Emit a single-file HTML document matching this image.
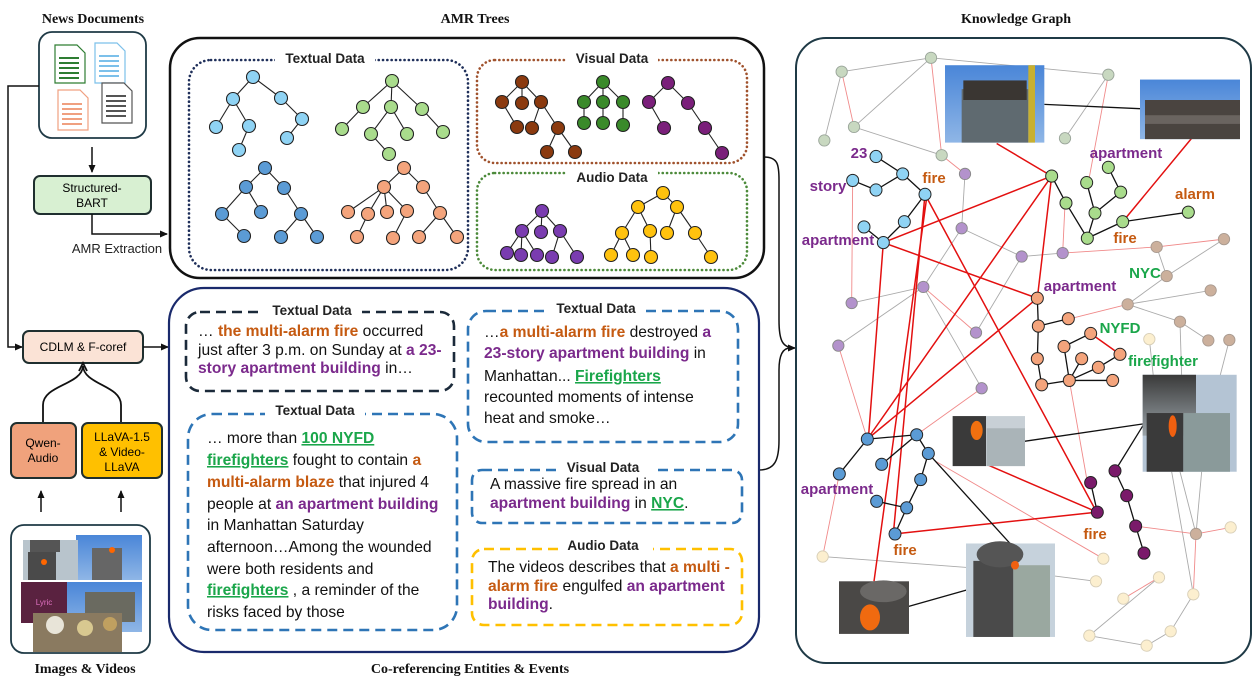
<!DOCTYPE html>
<html><head><meta charset="utf-8"><style>
body{margin:0;background:#fff}
svg{display:block}
.kg *{vector-effect:non-scaling-stroke}
.t{font-family:"Liberation Serif",serif;font-weight:bold;font-size:14px;fill:#111}
.s{font-family:"Liberation Sans",sans-serif}
.lb{font-family:"Liberation Sans",sans-serif;font-weight:bold;font-size:13.5px;fill:#222}
.bx{font-family:"Liberation Sans",sans-serif;font-size:15.6px;fill:#111}
.o{fill:#c55a11;font-weight:bold}
.p{fill:#7b2a8c;font-weight:bold}
.g{fill:#1aa64a;font-weight:bold;text-decoration:underline}
.kl{font-family:"Liberation Sans",sans-serif;font-weight:bold;font-size:15px}
.n circle{stroke:#222;stroke-width:1.1}
.n line{stroke:#222;stroke-width:1.1}
</style></head><body>
<svg width="1256" height="678" viewBox="0 0 1256 678" xmlns="http://www.w3.org/2000/svg">
<defs>
<marker id="ah" markerWidth="8" markerHeight="8" refX="7" refY="4" orient="auto" markerUnits="userSpaceOnUse"><path d="M0,0.5 L8,4 L0,7.5z" fill="#111"/></marker>
<linearGradient id="sky" x1="0" y1="0" x2="0" y2="1"><stop offset="0" stop-color="#4a86d8"/><stop offset="1" stop-color="#8fb6e6"/></linearGradient>
<linearGradient id="smk" x1="0" y1="0" x2="0" y2="1"><stop offset="0" stop-color="#3a3a3a"/><stop offset="1" stop-color="#9aa3a8"/></linearGradient>
</defs>

<!-- titles -->
<text class="t" x="93" y="23" text-anchor="middle">News Documents</text>
<text class="t" x="475" y="23" text-anchor="middle">AMR Trees</text>
<text class="t" x="1016" y="23" text-anchor="middle">Knowledge Graph</text>
<text class="t" x="85" y="673" text-anchor="middle">Images &amp; Videos</text>
<text class="t" x="470" y="673" text-anchor="middle">Co-referencing Entities &amp; Events</text>

<!-- news docs -->
<rect x="39" y="32" width="107" height="106" rx="13" fill="#fff" stroke="#1f3a46" stroke-width="1.8"/>
<g fill="#fff" stroke-width="1.2">
<path d="M55,45 h22 l8,8 v30 h-30z" stroke="#2e7d32"/>
<path d="M95,43 h22 l8,8 v32 h-30z" stroke="#7cc0ea"/>
<path d="M58,90 h22 l8,8 v32 h-30z" stroke="#f0a080"/>
<path d="M102,83 h22 l8,8 v32 h-30z" stroke="#555"/>
</g>
<g stroke-width="2">
<path d="M59,58h20M59,63h20M59,68h20M59,73h20M59,78h20" stroke="#2e7d32"/>
<path d="M99,56h20M99,61h20M99,66h20M99,71h20M99,76h20" stroke="#7cc0ea"/>
<path d="M62,104h20M62,109h20M62,114h20M62,119h20M62,124h20" stroke="#f0a080"/>
<path d="M106,96h20M106,101h20M106,106h20M106,111h20M106,116h20" stroke="#555"/>
</g>
<line x1="92" y1="147" x2="92" y2="172" stroke="#111" stroke-width="1.5" marker-end="url(#ah)"/>
<rect x="34" y="176" width="117" height="38" rx="6" fill="#d8f0d2" stroke="#1f2f2f" stroke-width="2"/>
<text class="s" x="92" y="192" font-size="12" text-anchor="middle">Structured-</text>
<text class="s" x="92" y="207" font-size="12" text-anchor="middle">BART</text>
<path d="M92,214 V234 H167" fill="none" stroke="#111" stroke-width="1.5" marker-end="url(#ah)"/>
<text class="s" x="117" y="253" font-size="13" text-anchor="middle" fill="#222">AMR Extraction</text>
<path d="M39,86 H8 V347 H22" fill="none" stroke="#111" stroke-width="1.5" marker-end="url(#ah)"/>
<rect x="23" y="331" width="120" height="32" rx="6" fill="#fbe3d6" stroke="#1f2f2f" stroke-width="2"/>
<text class="s" x="83" y="351" font-size="12" text-anchor="middle">CDLM &amp; F-coref</text>
<line x1="143" y1="347" x2="168" y2="347" stroke="#111" stroke-width="1.5" marker-end="url(#ah)"/>
<path d="M43,423 V405 C43,385 82,385 83,366 C84,385 121,385 121,405 V423" fill="none" stroke="#111" stroke-width="1.8"/>
<path d="M79,371 L83,363 L87,371" fill="none" stroke="#111" stroke-width="1.8"/>
<rect x="11" y="423" width="65" height="55" rx="6" fill="#f0a27c" stroke="#1f2f2f" stroke-width="2"/>
<text class="s" x="43" y="447" font-size="12" text-anchor="middle">Qwen-</text>
<text class="s" x="43" y="462" font-size="12" text-anchor="middle">Audio</text>
<rect x="82" y="423" width="80" height="55" rx="6" fill="#ffc000" stroke="#1f2f2f" stroke-width="2"/>
<text class="s" x="122" y="441" font-size="12" text-anchor="middle">LLaVA-1.5</text>
<text class="s" x="122" y="456" font-size="12" text-anchor="middle">&amp; Video-</text>
<text class="s" x="122" y="471" font-size="12" text-anchor="middle">LLaVA</text>
<line x1="41" y1="512" x2="41" y2="491" stroke="#111" stroke-width="1.5" marker-end="url(#ah)"/>
<line x1="121" y1="512" x2="121" y2="491" stroke="#111" stroke-width="1.5" marker-end="url(#ah)"/>
<rect x="11" y="525" width="139" height="128" rx="13" fill="#fff" stroke="#1f3a46" stroke-width="1.8"/>
<rect x="76" y="535" width="66" height="45" fill="url(#sky)"/><rect x="92" y="548" width="30" height="32" fill="#666"/><circle cx="112" cy="550" r="3" fill="#f60"/>
<rect x="23" y="540" width="55" height="40" fill="#b8c4cc"/><rect x="28" y="552" width="28" height="28" fill="#4a4a4a"/><rect x="30" y="540" width="30" height="12" fill="#555"/><circle cx="44" cy="562" r="3" fill="#f60"/>
<rect x="21" y="582" width="46" height="41" fill="#5a2240"/><text x="44" y="605" font-size="8" fill="#e070c0" class="s" text-anchor="middle">Lyric</text>
<rect x="67" y="582" width="75" height="50" fill="url(#sky)"/><rect x="85" y="592" width="50" height="30" fill="#6a6a60"/>
<rect x="33" y="613" width="89" height="39" fill="#8a7a60"/><circle cx="55" cy="625" r="9" fill="#e8e4d8"/><circle cx="85" cy="628" r="8" fill="#d8c890"/><circle cx="110" cy="624" r="7" fill="#c0a060"/>

<!-- AMR box -->
<rect x="170" y="38" width="594" height="240" rx="30" fill="#fff" stroke="#111" stroke-width="2.5"/>
<g fill="none" stroke-width="2.6" stroke-dasharray="0.1 4.2" stroke-linecap="round">
<rect x="189" y="60" width="279" height="210" rx="22" stroke="#1f2f5a"/>
<rect x="477" y="60" width="270" height="103" rx="18" stroke="#a0522d"/>
<rect x="477" y="173" width="270" height="97" rx="18" stroke="#4c8a3a"/>
</g>
<rect x="275" y="48" width="100" height="20" fill="#fff"/><text class="lb" x="325" y="63" text-anchor="middle">Textual Data</text>
<rect x="566" y="48" width="92" height="20" fill="#fff"/><text class="lb" x="612" y="63" text-anchor="middle">Visual Data</text>
<rect x="566" y="166" width="92" height="20" fill="#fff"/><text class="lb" x="612" y="182" text-anchor="middle">Audio Data</text>

<g class="n">
<line x1="253" y1="77" x2="233" y2="99"/><line x1="253" y1="77" x2="281" y2="98"/><line x1="233" y1="99" x2="216" y2="127"/><line x1="233" y1="99" x2="249" y2="126"/><line x1="249" y1="126" x2="239" y2="150"/><line x1="281" y1="98" x2="302" y2="119"/><line x1="302" y1="119" x2="287" y2="138"/>
<g fill="#8fd3f4"><circle cx="253" cy="77" r="6.5"/><circle cx="233" cy="99" r="6.5"/><circle cx="281" cy="98" r="6.5"/><circle cx="216" cy="127" r="6.5"/><circle cx="249" cy="126" r="6.5"/><circle cx="302" cy="119" r="6.5"/><circle cx="239" cy="150" r="6.5"/><circle cx="287" cy="138" r="6.5"/></g>
<line x1="392" y1="81" x2="363" y2="107"/><line x1="392" y1="81" x2="391" y2="107"/><line x1="392" y1="81" x2="422" y2="109"/><line x1="363" y1="107" x2="342" y2="129"/><line x1="391" y1="107" x2="371" y2="134"/><line x1="391" y1="107" x2="407" y2="134"/><line x1="422" y1="109" x2="443" y2="132"/><line x1="371" y1="134" x2="389" y2="154"/>
<g fill="#a9dc8c"><circle cx="392" cy="81" r="6.5"/><circle cx="363" cy="107" r="6.5"/><circle cx="391" cy="107" r="6.5"/><circle cx="422" cy="109" r="6.5"/><circle cx="342" cy="129" r="6.5"/><circle cx="371" cy="134" r="6.5"/><circle cx="407" cy="134" r="6.5"/><circle cx="443" cy="132" r="6.5"/><circle cx="389" cy="154" r="6.5"/></g>
<line x1="265" y1="168" x2="246" y2="187"/><line x1="265" y1="168" x2="284" y2="188"/><line x1="246" y1="187" x2="222" y2="214"/><line x1="246" y1="187" x2="261" y2="212"/><line x1="284" y1="188" x2="301" y2="214"/><line x1="222" y1="214" x2="244" y2="236"/><line x1="301" y1="214" x2="281" y2="237"/><line x1="301" y1="214" x2="317" y2="237"/>
<g fill="#5b9bd5"><circle cx="265" cy="168" r="6.5"/><circle cx="246" cy="187" r="6.5"/><circle cx="284" cy="188" r="6.5"/><circle cx="222" cy="214" r="6.5"/><circle cx="261" cy="212" r="6.5"/><circle cx="301" cy="214" r="6.5"/><circle cx="244" cy="236" r="6.5"/><circle cx="281" cy="237" r="6.5"/><circle cx="317" cy="237" r="6.5"/></g>
<line x1="404" y1="168" x2="384" y2="187"/><line x1="404" y1="168" x2="423" y2="187"/><line x1="384" y1="187" x2="348" y2="212"/><line x1="384" y1="187" x2="368" y2="214"/><line x1="384" y1="187" x2="387" y2="212"/><line x1="384" y1="187" x2="407" y2="211"/><line x1="423" y1="187" x2="440" y2="213"/><line x1="368" y1="214" x2="357" y2="237"/><line x1="407" y1="211" x2="393" y2="238"/><line x1="440" y1="213" x2="419" y2="237"/><line x1="440" y1="213" x2="457" y2="237"/>
<g fill="#f4a47c"><circle cx="404" cy="168" r="6.5"/><circle cx="384" cy="187" r="6.5"/><circle cx="423" cy="187" r="6.5"/><circle cx="348" cy="212" r="6.5"/><circle cx="368" cy="214" r="6.5"/><circle cx="387" cy="212" r="6.5"/><circle cx="407" cy="211" r="6.5"/><circle cx="440" cy="213" r="6.5"/><circle cx="357" cy="237" r="6.5"/><circle cx="393" cy="238" r="6.5"/><circle cx="419" cy="237" r="6.5"/><circle cx="457" cy="237" r="6.5"/></g>
<line x1="522" y1="82" x2="502" y2="102"/><line x1="522" y1="82" x2="522" y2="103"/><line x1="522" y1="82" x2="541" y2="102"/><line x1="502" y1="102" x2="517" y2="127"/><line x1="541" y1="102" x2="532" y2="128"/><line x1="541" y1="102" x2="558" y2="128"/><line x1="558" y1="128" x2="547" y2="152"/><line x1="558" y1="128" x2="575" y2="152"/>
<g fill="#8b3a0f"><circle cx="522" cy="82" r="6.5"/><circle cx="502" cy="102" r="6.5"/><circle cx="522" cy="103" r="6.5"/><circle cx="541" cy="102" r="6.5"/><circle cx="517" cy="127" r="6.5"/><circle cx="532" cy="128" r="6.5"/><circle cx="558" cy="128" r="6.5"/><circle cx="547" cy="152" r="6.5"/><circle cx="575" cy="152" r="6.5"/></g>
<line x1="603" y1="82" x2="584" y2="102"/><line x1="603" y1="82" x2="603" y2="102"/><line x1="603" y1="82" x2="623" y2="102"/><line x1="584" y1="102" x2="584" y2="123"/><line x1="603" y1="102" x2="603" y2="123"/><line x1="623" y1="102" x2="623" y2="125"/>
<g fill="#3a8a2a"><circle cx="603" cy="82" r="6.5"/><circle cx="584" cy="102" r="6.5"/><circle cx="603" cy="102" r="6.5"/><circle cx="623" cy="102" r="6.5"/><circle cx="584" cy="123" r="6.5"/><circle cx="603" cy="123" r="6.5"/><circle cx="623" cy="125" r="6.5"/></g>
<line x1="668" y1="83" x2="649" y2="102"/><line x1="668" y1="83" x2="688" y2="103"/><line x1="649" y1="102" x2="664" y2="128"/><line x1="688" y1="103" x2="705" y2="128"/><line x1="705" y1="128" x2="722" y2="153"/>
<g fill="#7a1f7a"><circle cx="668" cy="83" r="6.5"/><circle cx="649" cy="102" r="6.5"/><circle cx="688" cy="103" r="6.5"/><circle cx="664" cy="128" r="6.5"/><circle cx="705" cy="128" r="6.5"/><circle cx="722" cy="153" r="6.5"/></g>
<line x1="542" y1="211" x2="522" y2="231"/><line x1="542" y1="211" x2="541" y2="232"/><line x1="542" y1="211" x2="560" y2="231"/><line x1="522" y1="231" x2="507" y2="253"/><line x1="522" y1="231" x2="521" y2="255"/><line x1="522" y1="231" x2="537" y2="255"/><line x1="560" y1="231" x2="552" y2="257"/><line x1="560" y1="231" x2="577" y2="257"/>
<g fill="#7a3cb0"><circle cx="542" cy="211" r="6.5"/><circle cx="522" cy="231" r="6.5"/><circle cx="541" cy="232" r="6.5"/><circle cx="560" cy="231" r="6.5"/><circle cx="507" cy="253" r="6.5"/><circle cx="521" cy="255" r="6.5"/><circle cx="537" cy="255" r="6.5"/><circle cx="552" cy="257" r="6.5"/><circle cx="577" cy="257" r="6.5"/></g>
<line x1="663" y1="193" x2="638" y2="207"/><line x1="663" y1="193" x2="677" y2="207"/><line x1="638" y1="207" x2="622" y2="233"/><line x1="638" y1="207" x2="650" y2="231"/><line x1="677" y1="207" x2="667" y2="233"/><line x1="677" y1="207" x2="695" y2="233"/><line x1="622" y1="233" x2="611" y2="255"/><line x1="622" y1="233" x2="633" y2="255"/><line x1="650" y1="231" x2="651" y2="257"/><line x1="695" y1="233" x2="711" y2="257"/>
<g fill="#ffc20e"><circle cx="663" cy="193" r="6.5"/><circle cx="638" cy="207" r="6.5"/><circle cx="677" cy="207" r="6.5"/><circle cx="622" cy="233" r="6.5"/><circle cx="650" cy="231" r="6.5"/><circle cx="667" cy="233" r="6.5"/><circle cx="695" cy="233" r="6.5"/><circle cx="611" cy="255" r="6.5"/><circle cx="633" cy="255" r="6.5"/><circle cx="651" cy="257" r="6.5"/><circle cx="711" cy="257" r="6.5"/></g>
</g>

<!-- connectors to KG -->
<path d="M764,157 C778,157 779,165 779,180 V320 C779,340 782,348 795,348" fill="none" stroke="#111" stroke-width="1.5" marker-end="url(#ah)"/>
<path d="M759,470 C775,470 779,460 779,440 V370 C779,355 783,348 790,348" fill="none" stroke="#111" stroke-width="1.5"/>

<!-- coref box -->
<rect x="169" y="288" width="590" height="364" rx="35" fill="#fff" stroke="#1a2a6c" stroke-width="2.2"/>
<g fill="none" stroke-width="2.6" stroke-dasharray="10 6">
<rect x="186" y="312" width="268" height="79" rx="14" stroke="#1b2a3a"/>
<rect x="468" y="311" width="270" height="131" rx="18" stroke="#2e75b6"/>
<rect x="188" y="414" width="269" height="216" rx="24" stroke="#2e75b6"/>
<rect x="472" y="470" width="270" height="53" rx="10" stroke="#2e75b6"/>
<rect x="472" y="549" width="270" height="76" rx="12" stroke="#ffc000"/>
</g>
<rect x="262" y="300" width="100" height="20" fill="#fff"/><text class="lb" x="312" y="315" text-anchor="middle">Textual Data</text>
<rect x="546" y="299" width="100" height="20" fill="#fff"/><text class="lb" x="596" y="313" text-anchor="middle">Textual Data</text>
<rect x="265" y="401" width="100" height="20" fill="#fff"/><text class="lb" x="315" y="415" text-anchor="middle">Textual Data</text>
<rect x="562" y="458" width="92" height="20" fill="#fff"/><text class="lb" x="603" y="472" text-anchor="middle">Visual Data</text>
<rect x="563" y="537" width="90" height="20" fill="#fff"/><text class="lb" x="603" y="550" text-anchor="middle">Audio Data</text>

<text class="bx" x="198" y="336">… <tspan class="o">the multi-alarm fire</tspan> occurred</text>
<text class="bx" x="198" y="355">just after 3 p.m. on Sunday at <tspan class="p">a 23-</tspan></text>
<text class="bx" x="198" y="373"><tspan class="p">story apartment building</tspan> in…</text>

<text class="bx" x="484" y="337">…<tspan class="o">a multi-alarm fire</tspan> destroyed <tspan class="p">a</tspan></text>
<text class="bx" x="484" y="358"><tspan class="p">23-story apartment building</tspan> in</text>
<text class="bx" x="484" y="381">Manhattan... <tspan class="g">Firefighters</tspan></text>
<text class="bx" x="484" y="402">recounted moments of intense</text>
<text class="bx" x="484" y="423">heat and smoke…</text>

<text class="bx" x="207" y="443">… more than <tspan class="g">100 NYFD</tspan></text>
<text class="bx" x="207" y="465"><tspan class="g">firefighters</tspan> fought to contain <tspan class="o">a</tspan></text>
<text class="bx" x="207" y="487"><tspan class="o">multi-alarm blaze</tspan> that injured 4</text>
<text class="bx" x="207" y="509">people at <tspan class="p">an apartment building</tspan></text>
<text class="bx" x="207" y="530">in Manhattan Saturday</text>
<text class="bx" x="207" y="552">afternoon…Among the wounded</text>
<text class="bx" x="207" y="574">were both residents and</text>
<text class="bx" x="207" y="595"><tspan class="g">firefighters</tspan> , a reminder of the</text>
<text class="bx" x="207" y="617">risks faced by those</text>

<text class="bx" x="490" y="489" font-size="14.5">A massive fire spread in an</text>
<text class="bx" x="490" y="508" font-size="14.5"><tspan class="p">apartment building</tspan> in <tspan class="g">NYC</tspan>.</text>

<text class="bx" x="488" y="572">The videos describes that <tspan class="o">a multi -</tspan></text>
<text class="bx" x="488" y="591"><tspan class="o">alarm fire</tspan> engulfed <tspan class="p">an apartment</tspan></text>
<text class="bx" x="488" y="609"><tspan class="p">building</tspan>.</text>

<!-- KG box -->
<rect x="796" y="38" width="455" height="625" rx="30" fill="#fff" stroke="#1f3a46" stroke-width="2"/>
<g class="kg" transform="translate(780,0) scale(0.33333,0.43478)">
<g stroke="#aaa" stroke-width="0.9" fill="none">
<path d="M185,165L453,133M453,133L222,292M185,165L133,323M222,292L485,357M453,133L985,172M985,172L855,318"/>
<path d="M555,400L545,525M545,525L725,590M725,590L588,765M545,525L430,660M430,660L215,697M430,660L175,795M430,660L605,893M848,582L725,590"/>
<path d="M1130,568L1160,635M1160,635L1332,550M1043,700L1160,635M1043,700L1292,668M1043,700L1200,740M1200,740L1285,783M1348,782L1320,865M1200,740L1205,865"/>
<path d="M128,1280L560,1305M948,1337L825,1325M1137,1328L928,1462M928,1462L1100,1485M1100,1485L1172,1452M1172,1452L1240,1367M1248,1228L1200,1085M1248,1228L1265,1085M1108,780L1120,865M1240,1367L1175,1085"/>
</g>
<g stroke="#f08a8a" stroke-width="0.9" fill="none">
<path d="M185,165L222,292M453,133L485,357M485,357L555,400M985,172L925,420M218,415L215,697M175,795L262,1010M430,660L588,765M848,582L1130,568M1130,568L1332,550M1043,700L860,735M848,582L855,470M970,1285L465,1060M1030,1377L1137,1328M1240,1367L1248,1228M1248,1228L1352,1213M1248,1228L1067,1210M128,1280L178,1090M868,875L920,1100M605,893L410,1000"/>
</g>
<g stroke="#e31010" stroke-width="1.5" fill="none">
<path d="M310,558L815,405M310,558L772,686M310,558L265,1010M435,447L340,1228M435,447L950,1178M815,405L262,1010M815,405L772,686M772,686L262,1010M650,330L815,405M1235,318L1028,510M345,1228L952,1178M625,1070L952,1178M282,1337L440,455M932,767L1020,815"/>
</g>
<g stroke="#111" stroke-width="1.3" fill="none">
<path d="M793,240L1080,250M733,1015L1090,975M445,1043L690,1250M385,1395L560,1357M1005,1083L1092,975"/>
<path d="M288,360L368,400M368,400L435,447M288,437L368,400M218,415L288,437M435,447L373,510M373,510L310,558M252,522L310,558"/>
<path d="M815,405L858,467M858,467L922,548M920,420L945,490M985,385L1022,442M1022,442L945,490M945,490L922,548M922,548L1028,510M1028,510L1225,488"/>
<path d="M772,686L775,750M775,750L865,733M775,750L772,825M772,825L785,885M785,885L868,875M868,875L852,797M852,797L932,767M868,875L905,825M868,875L955,845M955,845L1020,815M868,875L998,875"/>
<path d="M262,1010L410,1000M262,1010L178,1090M410,1000L445,1043M410,1000L305,1068M445,1043L422,1103M422,1103L380,1168M290,1153L380,1168M380,1168L345,1228"/>
<path d="M932,1110L952,1178M1005,1083L1040,1140M1040,1140L1067,1210M1067,1210L1092,1272"/>
</g>
<rect x="495" y="150" width="298" height="178" fill="url(#sky)"/><rect x="545" y="205" width="200" height="123" fill="#5f6a70"/><rect x="550" y="185" width="190" height="45" fill="#3a3632"/><rect x="745" y="150" width="20" height="178" fill="#c8b030"/>
<rect x="1080" y="183" width="300" height="137" fill="url(#sky)"/><rect x="1095" y="230" width="285" height="90" fill="#4a4440"/><rect x="1095" y="265" width="285" height="20" fill="#6a6460"/>
<rect x="518" y="957" width="217" height="115" fill="#c8d0d6"/><rect x="518" y="957" width="100" height="115" fill="#3a3a3a"/><rect x="620" y="985" width="115" height="87" fill="#aab4b8"/><ellipse cx="590" cy="990" rx="18" ry="22" fill="#f07010"/>
<rect x="1088" y="862" width="282" height="223" fill="#b4c4d4"/><rect x="1088" y="862" width="160" height="140" fill="url(#smk)"/><rect x="1100" y="950" width="110" height="135" fill="#3a3a3a"/><rect x="1210" y="950" width="140" height="135" fill="#8a9a9a"/><ellipse cx="1178" cy="980" rx="12" ry="25" fill="#f06010"/>
<rect x="558" y="1250" width="267" height="215" fill="#c6d2dc"/><rect x="580" y="1290" width="120" height="175" fill="#4a4a4a"/><rect x="700" y="1300" width="110" height="165" fill="#9aa8a0"/><ellipse cx="660" cy="1275" rx="70" ry="30" fill="#555"/><ellipse cx="705" cy="1300" rx="12" ry="10" fill="#f06010"/>
<rect x="177" y="1337" width="210" height="121" fill="#4a4846"/><ellipse cx="270" cy="1420" rx="30" ry="30" fill="#f06a10"/><ellipse cx="310" cy="1360" rx="70" ry="25" fill="#6a6866"/>
<g stroke="#9aa59a" stroke-width="0.9" fill="#c8d8c0">
<ellipse cx="185" cy="165" rx="17" ry="13"/><ellipse cx="453" cy="133" rx="17" ry="13"/><ellipse cx="985" cy="172" rx="17" ry="13"/><ellipse cx="222" cy="292" rx="17" ry="13"/><ellipse cx="133" cy="323" rx="17" ry="13"/><ellipse cx="855" cy="318" rx="17" ry="13"/><ellipse cx="485" cy="357" rx="17" ry="13"/>
</g>
<g stroke="#888" stroke-width="0.9" fill="#b392cc">
<ellipse cx="555" cy="400" rx="17" ry="13"/><ellipse cx="545" cy="525" rx="17" ry="13"/><ellipse cx="725" cy="590" rx="17" ry="13"/><ellipse cx="848" cy="582" rx="17" ry="13"/><ellipse cx="430" cy="660" rx="17" ry="13"/><ellipse cx="215" cy="697" rx="17" ry="13"/><ellipse cx="175" cy="795" rx="17" ry="13"/><ellipse cx="588" cy="765" rx="17" ry="13"/><ellipse cx="605" cy="893" rx="17" ry="13"/>
</g>
<g stroke="#a89a90" stroke-width="0.9" fill="#ccb09c">
<ellipse cx="1130" cy="568" rx="17" ry="13"/><ellipse cx="1332" cy="550" rx="17" ry="13"/><ellipse cx="1160" cy="635" rx="17" ry="13"/><ellipse cx="1043" cy="700" rx="17" ry="13"/><ellipse cx="1292" cy="668" rx="17" ry="13"/><ellipse cx="1200" cy="740" rx="17" ry="13"/><ellipse cx="1285" cy="783" rx="17" ry="13"/><ellipse cx="1348" cy="782" rx="17" ry="13"/><ellipse cx="1248" cy="1228" rx="17" ry="13"/>
</g>
<g stroke="#d8cfb8" stroke-width="0.9" fill="#fcefcf">
<ellipse cx="128" cy="1280" rx="17" ry="13"/><ellipse cx="970" cy="1285" rx="17" ry="13"/><ellipse cx="948" cy="1337" rx="17" ry="13"/><ellipse cx="1030" cy="1377" rx="17" ry="13"/><ellipse cx="1137" cy="1328" rx="17" ry="13"/><ellipse cx="928" cy="1462" rx="17" ry="13"/><ellipse cx="1100" cy="1485" rx="17" ry="13"/><ellipse cx="1172" cy="1452" rx="17" ry="13"/><ellipse cx="1240" cy="1367" rx="17" ry="13"/><ellipse cx="1352" cy="1213" rx="17" ry="13"/><ellipse cx="1108" cy="780" rx="17" ry="13"/>
</g>
<g stroke="#222" stroke-width="1" fill="#8fd3f4">
<ellipse cx="288" cy="360" rx="18" ry="14"/><ellipse cx="368" cy="400" rx="18" ry="14"/><ellipse cx="288" cy="437" rx="18" ry="14"/><ellipse cx="218" cy="415" rx="18" ry="14"/><ellipse cx="435" cy="447" rx="18" ry="14"/><ellipse cx="373" cy="510" rx="18" ry="14"/><ellipse cx="252" cy="522" rx="18" ry="14"/><ellipse cx="310" cy="558" rx="18" ry="14"/>
</g>
<g stroke="#222" stroke-width="1" fill="#a9dc8c">
<ellipse cx="815" cy="405" rx="18" ry="14"/><ellipse cx="858" cy="467" rx="18" ry="14"/><ellipse cx="920" cy="420" rx="18" ry="14"/><ellipse cx="985" cy="385" rx="18" ry="14"/><ellipse cx="1022" cy="442" rx="18" ry="14"/><ellipse cx="945" cy="490" rx="18" ry="14"/><ellipse cx="922" cy="548" rx="18" ry="14"/><ellipse cx="1028" cy="510" rx="18" ry="14"/><ellipse cx="1225" cy="488" rx="18" ry="14"/>
</g>
<g stroke="#222" stroke-width="1" fill="#f4a47c">
<ellipse cx="772" cy="686" rx="18" ry="14"/><ellipse cx="775" cy="750" rx="18" ry="14"/><ellipse cx="865" cy="733" rx="18" ry="14"/><ellipse cx="772" cy="825" rx="18" ry="14"/><ellipse cx="785" cy="885" rx="18" ry="14"/><ellipse cx="868" cy="875" rx="18" ry="14"/><ellipse cx="852" cy="797" rx="18" ry="14"/><ellipse cx="932" cy="767" rx="18" ry="14"/><ellipse cx="905" cy="825" rx="18" ry="14"/><ellipse cx="955" cy="845" rx="18" ry="14"/><ellipse cx="1020" cy="815" rx="18" ry="14"/><ellipse cx="998" cy="875" rx="18" ry="14"/>
</g>
<g stroke="#222" stroke-width="1" fill="#5b9bd5">
<ellipse cx="262" cy="1010" rx="18" ry="14"/><ellipse cx="410" cy="1000" rx="18" ry="14"/><ellipse cx="445" cy="1043" rx="18" ry="14"/><ellipse cx="305" cy="1068" rx="18" ry="14"/><ellipse cx="178" cy="1090" rx="18" ry="14"/><ellipse cx="422" cy="1103" rx="18" ry="14"/><ellipse cx="380" cy="1168" rx="18" ry="14"/><ellipse cx="290" cy="1153" rx="18" ry="14"/><ellipse cx="345" cy="1228" rx="18" ry="14"/>
</g>
<g stroke="#222" stroke-width="1" fill="#7a1a6a">
<ellipse cx="932" cy="1110" rx="18" ry="14"/><ellipse cx="1005" cy="1083" rx="18" ry="14"/><ellipse cx="1040" cy="1140" rx="18" ry="14"/><ellipse cx="952" cy="1178" rx="18" ry="14"/><ellipse cx="1067" cy="1210" rx="18" ry="14"/><ellipse cx="1092" cy="1272" rx="18" ry="14"/>
</g>
</g>
<g class="kl" text-anchor="middle">
<text x="859" y="158" fill="#7b2a8c">23</text>
<text x="828" y="191" fill="#7b2a8c">story</text>
<text x="934" y="183" fill="#c55a11">fire</text>
<text x="838" y="245" fill="#7b2a8c">apartment</text>
<text x="1126" y="158" fill="#7b2a8c">apartment</text>
<text x="1195" y="199" fill="#c55a11">alarm</text>
<text x="1125" y="243" fill="#c55a11">fire</text>
<text x="1145" y="278" fill="#1aa64a">NYC</text>
<text x="1080" y="291" fill="#7b2a8c">apartment</text>
<text x="1120" y="333" fill="#1aa64a">NYFD</text>
<text x="1163" y="366" fill="#1aa64a">firefighter</text>
<text x="837" y="494" fill="#7b2a8c">apartment</text>
<text x="905" y="555" fill="#c55a11">fire</text>
<text x="1095" y="539" fill="#c55a11">fire</text>
</g>
</svg>
</body></html>
